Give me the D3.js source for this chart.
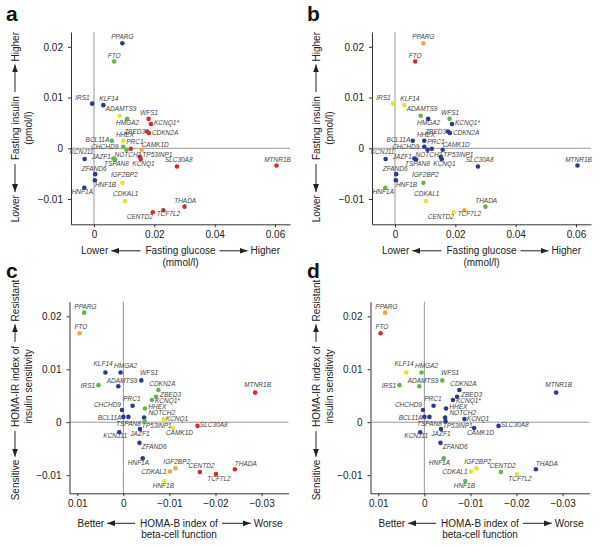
<!DOCTYPE html>
<html><head><meta charset="utf-8">
<script src="https://cdn.jsdelivr.net/npm/d3@7/dist/d3.min.js"></script>
<style>
html,body{margin:0;padding:0;background:#fff;}
svg text{font-family:"Liberation Sans",Arial,Helvetica,sans-serif;}
</style>
</head><body>
<svg id="chart" width="600" height="546"></svg>
<script>
// ---- data ----
const genes = ["PPARG","FTO","IRS1","KLF14","ADAMTS9","HMGA2","WFS1","KCNQ1*","ZBED3","CDKN2A","BCL11A","HHEX","PRC1","CHCHD9","NOTCH2","CAMK1D","TP53INP1","KCNQ1","JAZF1","TSPAN8","KCNJ11","SLC30A8","MTNR1B","ZFAND6","HNF1B","HNF1A","IGF2BP2","CDKAL1","THADA","TCF7L2","CENTD2"];
// panels a,b
const fastingGlucose = [0.0094,0.0067,-0.0006,0.0031,0.0085,0.0110,0.0181,0.0189,0.0176,0.0182,0.0059,0.0097,0.0122,0.0097,0.0108,0.0158,0.0152,0.0155,0.0064,0.0070,-0.0031,0.0275,0.0605,0.0004,0.0003,-0.0032,0.0094,0.0103,0.0300,0.0230,0.0195];
const fastingInsulin = [0.0207,0.0171,0.0088,0.0085,0.0064,0.0058,0.0058,0.0048,0.0033,0.0030,0.0015,0.0015,-0.0001,0.0003,-0.0003,-0.0003,-0.0017,-0.0021,-0.0020,-0.0022,-0.0021,-0.0036,-0.0034,-0.0051,-0.0063,-0.0078,-0.0068,-0.0104,-0.0115,-0.0122,-0.0126];
// panels c,d
const homaB = [0.0085,0.0095,0.0054,0.0039,0.0011,0.0006,-0.0039,-0.0062,-0.0071,-0.0076,0.0000,-0.0047,-0.0020,0.0003,-0.0045,-0.0108,-0.0046,-0.0087,-0.0036,-0.0011,0.0009,-0.0161,-0.0286,-0.0035,-0.0089,-0.0042,-0.0113,-0.0101,-0.0242,-0.0201,-0.0166];
const homaIR = [0.0207,0.0168,0.0070,0.0094,0.0068,0.0094,0.0079,0.0042,0.0048,0.0061,0.0010,0.0026,0.0031,0.0023,0.0009,-0.0011,0.0002,0.0006,-0.0013,0.0010,-0.0019,-0.0007,0.0056,-0.0039,-0.0111,-0.0068,-0.0087,-0.0093,-0.0089,-0.0098,-0.0094];
// colour groups per panel
const groupsA = ["B","G","B","B","Y","G","R","R","R","R","G","Y","R","G","G","O","R","R","G","G","B","R","R","B","B","B","Y","Y","R","R","R"];
const groupsB = ["O","R","Y","Y","G","B","G","B","B","B","B","B","B","B","B","B","B","B","B","B","B","B","B","B","B","G","G","Y","G","O","Y"];
const groupsC = ["G","O","G","B","B","B","B","G","G","G","B","G","B","B","B","Y","G","Y","B","B","B","R","R","B","Y","B","O","O","R","R","R"];
const groupsD = ["O","R","G","Y","G","G","G","B","B","B","B","B","B","B","B","B","B","B","B","B","B","B","B","B","G","G","Y","Y","B","Y","G"];
const ticksGlucose = [0,0.02,0.04,0.06];
const ticksInsulin = [-0.01,0,0.01,0.02];
const ticksHomaB = [0.01,0,-0.01,-0.02,-0.03];
const ticksHomaIR = [-0.01,0,0.01,0.02];

// ---- styling / layout ----
const palette = {B:"#2b3990",R:"#e1262b",G:"#62b64b",Y:"#e9e51f",O:"#f3a53c"};
// label placement [anchor, dx, dy] per gene, for a/b and c/d layouts
const labAB = {"PPARG":["m",0,-4],"FTO":["m",0,-4],"IRS1":["e",-2.5,-4],"KLF14":["s",-4,-4.5],"ADAMTS9":["m",1.5,-4.5],"HMGA2":["m",0.5,6.6],"WFS1":["m",0.5,-4],"KCNQ1*":["s",3,1.5],"ZBED3":["e",-2,2.6],"CDKN2A":["s",3,2.3],"BCL11A":["e",-2.5,1],"HHEX":["m",1.7,-4],"PRC1":["s",-4.5,-4.5],"CHCHD9":["e",-5,1.8],"NOTCH2":["m",1.3,6.7],"CAMK1D":["s",0,-3.3],"TP53INP1":["s",2.5,0.5],"KCNQ1":["m",2.8,6.6],"JAZF1":["e",-2.5,0.5],"TSPAN8":["m",1.3,6.4],"KCNJ11":["m",-3,-4.7],"SLC30A8":["m",1.7,-5],"MTNR1B":["m",1,-4],"ZFAND6":["m",-1,-3.3],"HNF1B":["s",0,6.3],"HNF1A":["m",-2,6.3],"IGF2BP2":["m",2,-5.7],"CDKAL1":["m",0.7,-4.7],"THADA":["m",0.7,-4],"TCF7L2":["m",5,6],"CENTD2":["e",0,7]};
const labCD = {"PPARG":["m",1.3,-4],"FTO":["m",1.3,-4],"KLF14":["m",-2.3,-6.3],"HMGA2":["m",5,-4.7],"WFS1":["s",-1.3,-5],"IRS1":["e",-3.3,3.3],"ADAMTS9":["m",3.7,-3.7],"CDKN2A":["m",4,-4],"ZBED3":["s",4,0.2],"KCNQ1*":["s",3,2.8],"PRC1":["m",-0.7,-5.3],"HHEX":["s",3.3,1],"CHCHD9":["e",-1,-3],"NOTCH2":["s",4.3,-2.6],"BCL11A":["e",-2,3.3],"KCNQ1":["s",2.4,1.7],"TSPAN8":["m",0,8.6],"TP53INP1":["s",-2.8,7],"CAMK1D":["m",6.3,6.7],"SLC30A8":["s",2.3,1.3],"KCNJ11":["m",-4,6],"JAZF1":["m",0,6.7],"ZFAND6":["s",2.3,6],"HNF1A":["m",-4.3,6.7],"IGF2BP2":["m",1.3,-4.7],"CDKAL1":["e",-3.3,2.3],"HNF1B":["m",-1,7.3],"CENTD2":["m",1.7,-4],"TCF7L2":["m",3,6.7],"THADA":["s",0,-3.3],"MTNR1B":["m",2.5,-5.7]};
const anchorMap = {m:"middle",s:"start",e:"end"};

const svg = d3.select("#chart");
const defs = svg.append("defs");
defs.append("marker").attr("id","ah").attr("viewBox","0 0 8 6").attr("refX",8).attr("refY",3)
  .attr("markerWidth",8).attr("markerHeight",6).attr("markerUnits","userSpaceOnUse").attr("orient","auto")
  .append("path").attr("d","M0,0L8,3L0,6Z").attr("fill","#222");

const fmt = d => d === 0 ? "0" : d3.format(".2f")(d);

const panels = [
  {id:"a", ox:0, oy:0, kind:"ab", groups:groupsA},
  {id:"b", ox:301, oy:0, kind:"ab", groups:groupsB},
  {id:"c", ox:0, oy:270, kind:"cd", groups:groupsC},
  {id:"d", ox:301, oy:270, kind:"cd", groups:groupsD}
];

function arrow(g, x1, y1, x2, y2){
  g.append("line").attr("x1",x1).attr("y1",y1).attr("x2",x2).attr("y2",y2)
    .attr("stroke","#222").attr("stroke-width",1).attr("marker-end","url(#ah)");
}

panels.forEach(p => {
  const g = svg.append("g").attr("transform",`translate(${p.ox},${p.oy})`);
  let x, y, xs, ys, xt, yt, lab, xTitle, yTitle;
  const ab = p.kind === "ab";
  if (ab) {
    x = d3.scaleLinear().domain([-0.00762, 0.06497]).range([71, 290]);
    y = d3.scaleLinear().domain([-0.01498, 0.02292]).range([224.3, 32]);
    xs = fastingGlucose; ys = fastingInsulin; xt = ticksGlucose; yt = ticksInsulin; lab = labAB;
    xTitle = {l:"Lower", m:"Fasting glucose", r:"Higher", sub:"(mmol/l)"};
    yTitle = {l:"Lower", m:"Fasting insulin", r:"Higher", sub:"(pmol/l)"};
  } else {
    x = d3.scaleLinear().domain([0.01169, -0.03584]).range([69.5, 288.5]);
    y = d3.scaleLinear().domain([-0.01343, 0.02277]).range([223.3, 31.7]);
    xs = homaB; ys = homaIR; xt = ticksHomaB; yt = ticksHomaIR; lab = labCD;
    xTitle = {l:"Better", m:"HOMA-B index of", r:"Worse", sub:"beta-cell function"};
    yTitle = {l:"Sensitive", m:"HOMA-IR index of", r:"Resistant", sub:"insulin sensitivity"};
  }
  const [x0, x1] = x.range(), [y0, y1] = y.range();
  // zero lines
  g.append("line").attr("x1",x(0)).attr("x2",x(0)).attr("y1",y1).attr("y2",y0).attr("stroke","#9a9a9a").attr("stroke-width",1);
  g.append("line").attr("x1",x0).attr("x2",x1).attr("y1",y(0)).attr("y2",y(0)).attr("stroke","#9a9a9a").attr("stroke-width",1);
  // axes
  const ax = g.append("g").attr("transform",`translate(0,${y0})`)
    .call(d3.axisBottom(x).tickValues(xt).tickFormat(fmt).tickSize(3).tickSizeOuter(0).tickPadding(4));
  const ay = g.append("g").attr("transform",`translate(${x0},0)`)
    .call(d3.axisLeft(y).tickValues(yt).tickFormat(fmt).tickSize(3).tickSizeOuter(0).tickPadding(5));
  [ax, ay].forEach(a => {
    a.select(".domain").attr("stroke","#333");
    a.selectAll(".tick line").attr("stroke","#333");
    a.selectAll(".tick text").attr("fill","#222").style("font-size","10px");
  });
  // points
  const data = genes.map((n,i) => ({n, x:xs[i], y:ys[i], c:p.groups[i]}));
  g.append("g").selectAll("circle").data(data).join("circle")
    .attr("cx", d => x(d.x)).attr("cy", d => y(d.y)).attr("r",2.3)
    .attr("fill", d => palette[d.c]);
  g.append("g").selectAll("text").data(data).join("text")
    .attr("x", d => x(d.x) + lab[d.n][1]).attr("y", d => y(d.y) + lab[d.n][2])
    .attr("text-anchor", d => anchorMap[lab[d.n][0]])
    .style("font-size","6.5px").style("font-style","italic").attr("fill","#444")
    .text(d => d.n);
  // x title
  const cx = (x0 + x1) / 2, by = y0 + (ab ? 30 : 33.5);
  const t = g.append("g").style("font-size","10px").attr("fill","#222");
  const mid = t.append("text").attr("x",cx).attr("y",by).attr("text-anchor","middle").text(xTitle.m);
  const mw = mid.node().getComputedTextLength();
  const lx = ab ? x0 + 10 : x0 + 8, rx = ab ? x1 - 10 : x1 - 6;
  const left = t.append("text").attr("x",lx).attr("y",by).attr("text-anchor","start").text(xTitle.l);
  const lw = left.node().getComputedTextLength();
  const right = t.append("text").attr("x",rx).attr("y",by).attr("text-anchor","end").text(xTitle.r);
  const rw = right.node().getComputedTextLength();
  arrow(t, cx - mw/2 - 5, by - 3.5, lx + lw + 3, by - 3.5);
  arrow(t, cx + mw/2 + 4, by - 3.5, rx - rw - 3, by - 3.5);
  t.append("text").attr("x",cx).attr("y",by + 11.2).attr("text-anchor","middle").text(xTitle.sub);
  // y title
  const cy = (y0 + y1) / 2 - (ab ? 0 : 11);
  const yg = g.append("g").attr("transform","translate(18.5,0) rotate(-90)").style("font-size","10px").attr("fill","#222");
  const ym = yg.append("text").attr("x",-cy).attr("y",0).attr("text-anchor","middle").text(yTitle.m);
  const ymw = ym.node().getComputedTextLength();
  const yBot = ab ? y0 - 2 : y0 + 7;
  const yTop = ab ? y1 : y1 - 22;
  const yl = yg.append("text").attr("x",-yBot).attr("y",0).attr("text-anchor","start").text(yTitle.l);
  const ylw = yl.node().getComputedTextLength();
  const yr = yg.append("text").attr("x",-yTop).attr("y",0).attr("text-anchor","end").text(yTitle.r);
  const yrw = yr.node().getComputedTextLength();
  arrow(yg, -cy - ymw/2 - 4, -3.5, -yBot + ylw + 3, -3.5);
  arrow(yg, -cy + ymw/2 + 4, -3.5, -yTop - yrw - 3, -3.5);
  yg.append("text").attr("x",-cy).attr("y",13.5).attr("text-anchor","middle").text(yTitle.sub);
  // panel letter
  g.append("text").attr("x",6).attr("y",ab ? 21 : 8).style("font-size","21px").style("font-weight","bold").attr("fill","#111").text(p.id);
});
</script>
</body></html>
